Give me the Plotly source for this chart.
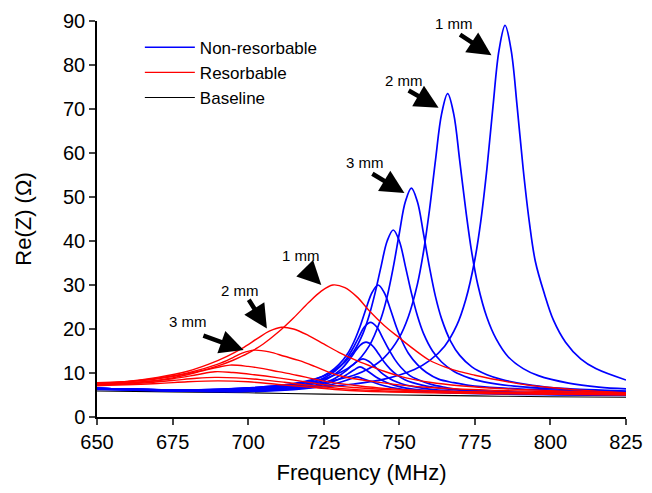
import plotly.graph_objects as go

# ---------------- data ----------------
# Non-resorbable (blue) curves, thickness 1 mm ... smallest
nr1_f = [650, 680, 700, 715, 725, 735, 745, 755, 760, 765, 769, 772, 775, 777, 779, 781, 783, 785, 787, 789, 791, 793, 795, 798, 801, 805, 810, 815, 825]
nr1_z = [6.5, 6.1, 6.2, 6.5, 6.9, 7.5, 8.6, 10.8, 12.8, 16.1, 20.8, 26.7, 35.8, 44.7, 56.5, 70.6, 83.4, 89.0, 83.4, 70.5, 56.3, 44.4, 35.4, 28.0, 22.0, 17.0, 13.2, 11.0, 8.4]
nr2_f = [650, 680, 700, 715, 725, 735, 740, 745, 750, 753, 756, 758, 760, 762, 764, 766, 768, 770, 772, 774, 776, 779, 782, 786, 791, 796, 806, 816, 825]
nr2_z = [6.5, 6.1, 6.5, 7.0, 7.9, 9.5, 11.0, 13.5, 18.1, 22.8, 30.2, 37.5, 47.1, 58.5, 68.9, 73.5, 68.9, 58.2, 47.0, 37.3, 30.0, 22.6, 17.8, 13.7, 11.0, 9.4, 7.7, 6.8, 6.4]
nr3_f = [650, 680, 700, 715, 725, 735, 740, 744, 746, 748, 750, 752, 754, 756, 758, 760, 762, 764, 767, 770, 774, 779, 784, 794, 804, 825]
nr3_z = [6.5, 6.1, 6.6, 7.4, 8.6, 12.0, 16.1, 22.5, 27.4, 34.0, 41.7, 48.9, 52.0, 48.9, 41.7, 34.0, 27.3, 22.3, 17.2, 14.0, 11.4, 9.6, 8.5, 7.2, 6.5, 5.9]
nr4_f = [650, 680, 700, 715, 725, 732, 735, 738, 740, 742, 744, 746, 748, 750, 752, 754, 756, 758, 761, 764, 768, 773, 778, 788, 798, 825]
nr4_z = [6.5, 6.1, 6.6, 7.6, 9.3, 12.5, 15.0, 19.0, 23.0, 28.2, 34.3, 40.0, 42.5, 40.0, 34.3, 28.2, 23.0, 19.0, 15.0, 12.5, 10.4, 8.9, 8.0, 7.0, 6.5, 5.8]
nr5_f = [650, 680, 700, 715, 722, 727, 730, 733, 735, 737, 739, 741, 743, 745, 747, 749, 751, 753, 756, 759, 763, 768, 773, 783, 793, 825]
nr5_z = [6.5, 6.1, 6.4, 7.4, 8.5, 10.2, 11.9, 14.5, 17.1, 20.5, 24.6, 28.3, 30.0, 28.3, 24.6, 20.5, 17.1, 14.5, 11.9, 10.1, 8.6, 7.8, 7.2, 6.6, 6.3, 5.6]
nr6_f = [650, 680, 700, 715, 722, 727, 730.5, 732.5, 734.5, 736.5, 738.5, 740.5, 742.5, 744.5, 746.5, 748.5, 750.5, 753.5, 756.5, 760.5, 765.5, 770, 780, 800, 825]
nr6_z = [6.5, 6.0, 6.2, 7.0, 8.0, 9.6, 11.5, 13.2, 15.4, 18.0, 20.5, 21.5, 20.5, 18.0, 15.4, 13.1, 11.3, 9.4, 8.4, 7.4, 6.7, 6.2, 5.8, 5.5, 5.3]
nr7_f = [650, 680, 700, 715, 722, 726, 729, 731, 733, 735, 737, 739, 741, 743, 745, 747, 749, 752, 755, 759, 764, 770, 785, 825]
nr7_z = [6.5, 6.0, 6.1, 6.7, 7.7, 8.6, 9.9, 11.0, 12.6, 14.5, 16.3, 17.0, 16.3, 14.5, 12.5, 10.9, 9.7, 8.4, 7.7, 7.0, 6.5, 6.1, 5.7, 5.2]
nr8_f = [650, 680, 700, 715, 722, 725, 728, 730, 732, 734, 736, 738, 740, 742, 744, 746, 748, 751, 754, 758, 765, 780, 825]
nr8_z = [6.4, 6.0, 6.0, 6.5, 7.2, 7.7, 8.5, 9.3, 10.3, 11.5, 12.6, 13.2, 12.6, 11.4, 10.1, 9.1, 8.3, 7.5, 7.0, 6.5, 6.0, 5.5, 5.1]
nr9_f = [650, 680, 700, 715, 722, 727, 730, 733, 735, 737, 739, 741, 743, 746, 750, 755, 765, 780, 825]
nr9_z = [6.4, 5.9, 5.9, 6.4, 6.9, 7.8, 8.6, 9.8, 10.7, 11.4, 10.7, 9.7, 8.8, 7.8, 6.9, 6.3, 5.8, 5.4, 5.0]
nr10_f = [650, 680, 700, 715, 722, 727, 731, 734, 736, 738, 741, 745, 750, 758, 770, 825]
nr10_z = [6.3, 5.9, 5.8, 6.2, 6.7, 7.3, 8.0, 8.7, 9.1, 8.7, 8.0, 7.1, 6.4, 5.8, 5.4, 4.9]

# Resorbable (red) curves
r1_f = [650, 665, 675, 685, 690, 695, 700, 705, 710, 715, 720, 724, 728, 732, 736, 740, 745, 750, 755, 760, 765, 770, 775, 785, 792, 800, 810, 825]
r1_z = [7.8, 8.3, 9.2, 10.6, 11.6, 12.9, 14.5, 16.6, 19.3, 22.5, 26.0, 28.5, 30.0, 29.4, 27.3, 24.2, 20.8, 18.0, 15.3, 12.9, 11.4, 10.3, 9.5, 8.1, 7.3, 6.7, 6.1, 5.5]
r2_f = [650, 660, 670, 680, 687, 693, 698, 703, 707, 711, 715, 720, 725, 730, 735, 740, 745, 750, 755, 760, 770, 780, 800, 825]
r2_z = [7.6, 8.1, 9.0, 10.4, 12.0, 13.8, 15.6, 17.8, 19.5, 20.4, 20.0, 18.5, 16.6, 14.7, 13.1, 11.7, 10.4, 9.3, 8.5, 7.9, 7.1, 6.6, 6.0, 5.5]
r3_f = [650, 660, 670, 680, 690, 695, 698, 702, 707, 712, 717, 722, 727, 732, 740, 750, 760, 780, 800, 825]
r3_z = [7.5, 8.0, 8.8, 10.0, 12.0, 13.5, 14.5, 15.2, 14.8, 13.8, 12.8, 11.5, 10.1, 9.1, 8.2, 7.3, 6.7, 6.1, 5.8, 5.4]
r4_f = [650, 665, 675, 685, 690, 694, 700, 705, 710, 716, 722, 728, 735, 745, 760, 790, 825]
r4_z = [7.4, 8.0, 8.9, 10.5, 11.3, 11.8, 11.5, 11.0, 10.3, 9.5, 8.6, 7.8, 7.2, 6.5, 6.0, 5.6, 5.3]
r5_f = [650, 665, 675, 683, 689, 695, 702, 710, 718, 726, 735, 750, 780, 825]
r5_z = [7.3, 7.9, 8.7, 9.6, 10.3, 10.1, 9.6, 8.9, 8.1, 7.3, 6.7, 6.1, 5.6, 5.2]
r6_f = [650, 665, 675, 683, 689, 696, 704, 712, 720, 730, 745, 780, 825]
r6_z = [7.2, 7.7, 8.3, 8.8, 9.0, 8.9, 8.5, 7.9, 7.2, 6.5, 5.9, 5.4, 5.1]
r7_f = [650, 670, 680, 690, 700, 710, 720, 730, 745, 780, 825]
r7_z = [7.1, 7.6, 8.0, 8.2, 8.0, 7.4, 6.8, 6.2, 5.7, 5.3, 5.0]

# Baseline (black)
base_f = [650, 675, 700, 725, 750, 775, 800, 825]
base_z = [5.9, 5.7, 5.5, 5.2, 5.0, 4.8, 4.6, 4.5]

nonres = [(nr1_f, nr1_z), (nr2_f, nr2_z), (nr3_f, nr3_z), (nr4_f, nr4_z), (nr5_f, nr5_z),
          (nr6_f, nr6_z), (nr7_f, nr7_z), (nr8_f, nr8_z), (nr9_f, nr9_z), (nr10_f, nr10_z)]
res = [(r1_f, r1_z), (r2_f, r2_z), (r3_f, r3_z), (r4_f, r4_z), (r5_f, r5_z), (r6_f, r6_z), (r7_f, r7_z)]

x_ticks = [650, 675, 700, 725, 750, 775, 800, 825]
y_ticks = [0, 10, 20, 30, 40, 50, 60, 70, 80, 90]

# annotation labels: (text, tip_x, tip_y, tail_x, tail_y, text_x, text_y)
labels = [
    ("1 mm", 780.5, 82.2, 769.6, 87.1, 768.0, 89.5),
    ("2 mm", 763.0, 70.3, 752.6, 74.4, 751.6, 76.5),
    ("3 mm", 751.7, 50.9, 740.6, 55.5, 738.5, 57.9),
    ("1 mm", 724.2, 30.0, 719.3, 33.4, 717.5, 36.6),
    ("2 mm", 706.2, 20.1, 699.9, 27.0, 697.2, 28.8),
    ("3 mm", 698.5, 15.2, 684.7, 18.6, 680.2, 21.7),
]

FONT = "Liberation Sans, Arial, sans-serif"
BLUE = "#0000ff"
RED = "#ff0000"

fig = go.Figure()

fig.add_trace(go.Scatter(x=base_f, y=base_z, mode="lines", name="Baseline", legendrank=3,
                         line=dict(color="black", width=1.1, shape="spline", smoothing=1)))
for i, (f, z) in enumerate(nonres):
    fig.add_trace(go.Scatter(x=f, y=z, mode="lines", name="Non-resorbable",
                             legendgroup="nr", showlegend=(i == 0), legendrank=1,
                             line=dict(color=BLUE, width=1.7, shape="spline", smoothing=1)))
for i, (f, z) in enumerate(res):
    fig.add_trace(go.Scatter(x=f, y=z, mode="lines", name="Resorbable",
                             legendgroup="r", showlegend=(i == 0), legendrank=2,
                             line=dict(color=RED, width=1.4, shape="spline", smoothing=1)))

for text, tx, ty, ax, ay, lx, ly in labels:
    fig.add_annotation(x=tx, y=ty, ax=ax, ay=ay, xref="x", yref="y", axref="x", ayref="y",
                       text="", showarrow=True, arrowhead=2, arrowsize=1.05, arrowwidth=4.5,
                       arrowcolor="black", standoff=0, startstandoff=0)
    fig.add_annotation(x=lx, y=ly, xref="x", yref="y", text=text, showarrow=False,
                       font=dict(family=FONT, size=15, color="black"))

# the page body adds an 8 px margin on each side; keep the figure inside the window
fig.update_layout(
    width=636, height=477,
    margin=dict(l=89, r=18, t=13, b=68, autoexpand=False),
    paper_bgcolor="white", plot_bgcolor="white",
    font=dict(family=FONT, color="black"),
    legend=dict(x=0.081, y=0.978, xanchor="left", yanchor="top",
                bgcolor="rgba(0,0,0,0)", font=dict(family=FONT, size=17),
                itemwidth=50, tracegroupgap=0, traceorder="normal"),
    xaxis=dict(range=[650, 825], tickvals=x_ticks, ticks="outside", ticklen=6, tickwidth=1.5,
               showline=True, linecolor="black", linewidth=1.5, showgrid=False, zeroline=False,
               automargin=False, ticklabeloverflow="allow",
               tickfont=dict(family=FONT, size=20), title=dict(text="Frequency (MHz)",
               font=dict(family=FONT, size=22), standoff=14)),
    yaxis=dict(range=[0, 90], tickvals=y_ticks, ticks="outside", ticklen=6, tickwidth=1.5,
               showline=True, linecolor="black", linewidth=1.5, showgrid=False, zeroline=False,
               automargin=False,
               tickfont=dict(family=FONT, size=20), title=dict(text="Re(Z) (Ω)",
               font=dict(family=FONT, size=22), standoff=25)),
)

fig.write_html("out.html")
